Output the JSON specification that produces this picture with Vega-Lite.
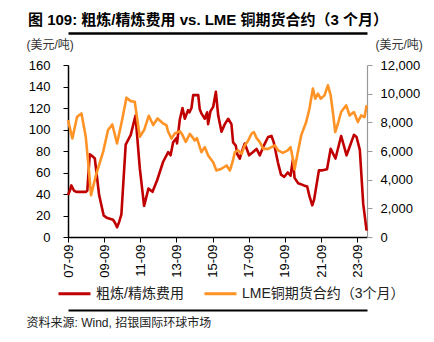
{
  "$schema": "https://vega.github.io/schema/vega-lite/v6.json",
  "width": 299,
  "height": 172,
  "autosize": "none",
  "padding": {"left": 68, "top": 65, "right": 67, "bottom": 105},
  "background": "white",
  "config": {
    "font": "Liberation Sans",
    "view": {"stroke": null},
    "axis": {"grid": false, "labelFont": "Liberation Sans", "titleFont": "Liberation Sans, Noto Sans CJK SC"},
    "legend": {"labelFont": "Liberation Sans, Noto Sans CJK SC"}
  },
  "title": {
    "text": "图 109: 粗炼/精炼费用 vs. LME 铜期货合约（3 个月）",
    "font": "Liberation Sans, Noto Sans CJK SC",
    "fontSize": 15,
    "fontWeight": "bold",
    "color": "#000000",
    "anchor": "start",
    "frame": "group",
    "dx": -40,
    "offset": 5
  },
  "datasets": {
    "tc": [
      {"date": "2007-09-01", "value": 39},
      {"date": "2007-10-15", "value": 44},
      {"date": "2007-11-07", "value": 48},
      {"date": "2008-01-01", "value": 43},
      {"date": "2008-02-17", "value": 42},
      {"date": "2008-05-01", "value": 42},
      {"date": "2008-08-25", "value": 42},
      {"date": "2008-09-25", "value": 43},
      {"date": "2008-11-14", "value": 77},
      {"date": "2009-01-10", "value": 75},
      {"date": "2009-02-24", "value": 73},
      {"date": "2009-05-22", "value": 39},
      {"date": "2009-08-22", "value": 20},
      {"date": "2009-10-20", "value": 18},
      {"date": "2009-12-24", "value": 17},
      {"date": "2010-02-28", "value": 16},
      {"date": "2010-04-10", "value": 13},
      {"date": "2010-05-19", "value": 9},
      {"date": "2010-07-01", "value": 14},
      {"date": "2010-08-15", "value": 21},
      {"date": "2010-11-10", "value": 86},
      {"date": "2011-02-20", "value": 95},
      {"date": "2011-05-27", "value": 113},
      {"date": "2011-08-22", "value": 64},
      {"date": "2011-11-17", "value": 29},
      {"date": "2012-02-13", "value": 45},
      {"date": "2012-05-05", "value": 42},
      {"date": "2012-08-08", "value": 53},
      {"date": "2012-12-06", "value": 70},
      {"date": "2013-03-18", "value": 79},
      {"date": "2013-05-05", "value": 76},
      {"date": "2013-06-25", "value": 88},
      {"date": "2013-09-02", "value": 92},
      {"date": "2013-09-13", "value": 87},
      {"date": "2013-11-07", "value": 109},
      {"date": "2014-01-01", "value": 120},
      {"date": "2014-02-17", "value": 110},
      {"date": "2014-04-23", "value": 118},
      {"date": "2014-05-20", "value": 116},
      {"date": "2014-07-02", "value": 120},
      {"date": "2014-08-05", "value": 132},
      {"date": "2014-11-15", "value": 132},
      {"date": "2014-12-15", "value": 119},
      {"date": "2015-01-18", "value": 115},
      {"date": "2015-03-28", "value": 110},
      {"date": "2015-05-15", "value": 116},
      {"date": "2015-06-03", "value": 105},
      {"date": "2015-07-20", "value": 117},
      {"date": "2015-09-13", "value": 121},
      {"date": "2015-11-06", "value": 135},
      {"date": "2015-12-24", "value": 113},
      {"date": "2016-02-28", "value": 98},
      {"date": "2016-05-05", "value": 105},
      {"date": "2016-07-13", "value": 110},
      {"date": "2016-09-16", "value": 105},
      {"date": "2016-10-20", "value": 88},
      {"date": "2016-12-13", "value": 85},
      {"date": "2017-01-12", "value": 77},
      {"date": "2017-03-04", "value": 73},
      {"date": "2017-04-10", "value": 79},
      {"date": "2017-06-13", "value": 87},
      {"date": "2017-09-08", "value": 76},
      {"date": "2017-11-28", "value": 79},
      {"date": "2018-02-06", "value": 82},
      {"date": "2018-04-13", "value": 76},
      {"date": "2018-07-02", "value": 85},
      {"date": "2018-09-27", "value": 93},
      {"date": "2018-12-05", "value": 94},
      {"date": "2019-01-20", "value": 88},
      {"date": "2019-04-15", "value": 69},
      {"date": "2019-06-15", "value": 58},
      {"date": "2019-08-20", "value": 56},
      {"date": "2019-10-30", "value": 60},
      {"date": "2019-12-25", "value": 57},
      {"date": "2020-02-10", "value": 72},
      {"date": "2020-03-15", "value": 55},
      {"date": "2020-05-27", "value": 50},
      {"date": "2020-09-20", "value": 48},
      {"date": "2020-11-25", "value": 47},
      {"date": "2021-01-10", "value": 38},
      {"date": "2021-03-08", "value": 29.5},
      {"date": "2021-04-15", "value": 35},
      {"date": "2021-07-20", "value": 62},
      {"date": "2021-10-01", "value": 62},
      {"date": "2021-12-31", "value": 63},
      {"date": "2022-03-15", "value": 82},
      {"date": "2022-06-20", "value": 73},
      {"date": "2022-10-12", "value": 94},
      {"date": "2023-01-30", "value": 76},
      {"date": "2023-06-28", "value": 95},
      {"date": "2023-08-20", "value": 93},
      {"date": "2023-10-25", "value": 81},
      {"date": "2024-01-01", "value": 31},
      {"date": "2024-03-10", "value": 6}
    ],
    "lme": [
      {"date": "2007-09-01", "value": 8155},
      {"date": "2007-11-28", "value": 6874},
      {"date": "2008-03-03", "value": 8390},
      {"date": "2008-05-30", "value": 8620},
      {"date": "2008-08-25", "value": 6990},
      {"date": "2008-10-12", "value": 5240},
      {"date": "2008-12-10", "value": 2910},
      {"date": "2009-03-28", "value": 4430},
      {"date": "2009-08-11", "value": 5940},
      {"date": "2009-11-18", "value": 7460},
      {"date": "2010-02-13", "value": 7850},
      {"date": "2010-05-19", "value": 6520},
      {"date": "2010-08-15", "value": 7920},
      {"date": "2010-11-25", "value": 9720},
      {"date": "2011-02-20", "value": 9480},
      {"date": "2011-05-12", "value": 9440},
      {"date": "2011-08-22", "value": 6990},
      {"date": "2011-11-17", "value": 7460},
      {"date": "2012-02-20", "value": 8460},
      {"date": "2012-05-19", "value": 7810},
      {"date": "2012-08-15", "value": 8270},
      {"date": "2012-12-06", "value": 7920},
      {"date": "2013-02-10", "value": 7810},
      {"date": "2013-03-18", "value": 7340},
      {"date": "2013-05-23", "value": 6870},
      {"date": "2013-07-31", "value": 7220},
      {"date": "2013-11-07", "value": 7390},
      {"date": "2014-01-01", "value": 7110},
      {"date": "2014-03-08", "value": 6640},
      {"date": "2014-05-30", "value": 7200},
      {"date": "2014-09-05", "value": 6740},
      {"date": "2014-10-20", "value": 6900},
      {"date": "2015-01-18", "value": 5920},
      {"date": "2015-03-28", "value": 6270},
      {"date": "2015-06-03", "value": 5690},
      {"date": "2015-09-13", "value": 5220},
      {"date": "2015-11-18", "value": 4640},
      {"date": "2016-02-28", "value": 4760},
      {"date": "2016-06-10", "value": 4990},
      {"date": "2016-08-15", "value": 4640},
      {"date": "2016-10-08", "value": 5220},
      {"date": "2016-11-25", "value": 5920},
      {"date": "2017-01-30", "value": 6040},
      {"date": "2017-04-10", "value": 5800},
      {"date": "2017-06-13", "value": 6390},
      {"date": "2017-08-22", "value": 6740},
      {"date": "2017-10-26", "value": 7200},
      {"date": "2017-12-13", "value": 7320},
      {"date": "2018-02-06", "value": 6900},
      {"date": "2018-04-13", "value": 6620},
      {"date": "2018-06-21", "value": 6150},
      {"date": "2018-09-27", "value": 6150},
      {"date": "2018-12-05", "value": 6270},
      {"date": "2019-02-10", "value": 6390},
      {"date": "2019-04-20", "value": 6040},
      {"date": "2019-07-22", "value": 5870},
      {"date": "2019-10-30", "value": 6040},
      {"date": "2019-12-25", "value": 6270},
      {"date": "2020-02-10", "value": 5450},
      {"date": "2020-03-15", "value": 4710},
      {"date": "2020-05-07", "value": 5690},
      {"date": "2020-07-27", "value": 7090},
      {"date": "2020-11-05", "value": 8020},
      {"date": "2021-01-10", "value": 8950},
      {"date": "2021-03-20", "value": 10350},
      {"date": "2021-05-08", "value": 9650},
      {"date": "2021-07-01", "value": 10000},
      {"date": "2021-08-25", "value": 9650},
      {"date": "2021-11-10", "value": 9880},
      {"date": "2022-01-18", "value": 10580},
      {"date": "2022-03-15", "value": 9880},
      {"date": "2022-04-28", "value": 8720},
      {"date": "2022-06-15", "value": 7320},
      {"date": "2022-08-08", "value": 7900},
      {"date": "2022-10-12", "value": 8720},
      {"date": "2023-01-22", "value": 9190},
      {"date": "2023-04-01", "value": 8480},
      {"date": "2023-06-28", "value": 8720},
      {"date": "2023-09-16", "value": 8020},
      {"date": "2023-11-20", "value": 8480},
      {"date": "2024-01-30", "value": 8370},
      {"date": "2024-03-10", "value": 9190}
    ]
  },
  "layer": [
    {
      "data": {"name": "tc"},
      "mark": {"type": "line", "strokeWidth": 2.6, "strokeJoin": "round"},
      "encoding": {
        "x": {
          "field": "date",
          "type": "temporal",
          "scale": {"domain": [{"year": 2007, "month": 9, "date": 1}, {"year": 2024, "month": 3, "date": 18}], "nice": false},
          "axis": {
            "orient": "bottom",
            "values": [
              {"year": 2007, "month": 9, "date": 1},
              {"year": 2009, "month": 9, "date": 1},
              {"year": 2011, "month": 9, "date": 1},
              {"year": 2013, "month": 9, "date": 1},
              {"year": 2015, "month": 9, "date": 1},
              {"year": 2017, "month": 9, "date": 1},
              {"year": 2019, "month": 9, "date": 1},
              {"year": 2021, "month": 9, "date": 1},
              {"year": 2023, "month": 9, "date": 1}
            ],
            "format": "%y-%m",
            "labelAngle": 270,
            "labelAlign": "right",
            "labelBaseline": "middle",
            "labelPadding": 2,
            "labelFontSize": 13,
            "labelColor": "#000000",
            "labelOverlap": false,
            "tickSize": 5,
            "tickColor": "#000000",
            "domainColor": "#000000",
            "domainWidth": 1.5,
            "title": "资料来源: Wind, 招银国际环球市场",
            "titleFontSize": 12,
            "titleFontWeight": "normal",
            "titleColor": "#222222",
            "titleAngle": 0,
            "titleAlign": "left",
            "titleBaseline": "middle",
            "titleAnchor": null,
            "titleX": -42,
            "titleY": 85
          }
        },
        "y": {
          "field": "value",
          "type": "quantitative",
          "scale": {"domain": [0, 160], "nice": false},
          "axis": {
            "orient": "left",
            "values": [0, 20, 40, 60, 80, 100, 120, 140, 160],
            "labelFontSize": 13,
            "labelColor": "#000000",
            "labelPadding": 13,
            "tickSize": 5,
            "tickColor": "#000000",
            "domainColor": "#000000",
            "domainWidth": 1.5,
            "title": "(美元/吨)",
            "titleFontSize": 12,
            "titleFontWeight": "normal",
            "titleColor": "#333333",
            "titleAngle": 0,
            "titleAlign": "left",
            "titleBaseline": "middle",
            "titleAnchor": null,
            "titleX": -42,
            "titleY": -21
          }
        },
        "color": {
          "datum": "粗炼/精炼费用",
          "type": "nominal",
          "scale": {"domain": ["粗炼/精炼费用", "LME铜期货合约（3个月）"], "range": ["#C00000", "#FF9326"]},
          "legend": {
            "title": null,
            "orient": "none",
            "direction": "horizontal",
            "legendX": -11,
            "legendY": 211,
            "padding": 0,
            "symbolType": "stroke",
            "symbolSize": 1024,
            "symbolStrokeWidth": 3,
            "labelFontSize": 14,
            "labelColor": "#222222",
            "labelOffset": 4,
            "labelLimit": 400,
            "columnPadding": 14
          }
        }
      }
    },
    {
      "data": {"name": "lme"},
      "mark": {"type": "line", "strokeWidth": 2.6, "strokeJoin": "round"},
      "encoding": {
        "x": {
          "field": "date",
          "type": "temporal",
          "axis": {
            "orient": "top",
            "offset": 32,
            "labels": false,
            "ticks": false,
            "domainColor": "#000000",
            "domainWidth": 2.5,
            "title": null
          }
        },
        "y": {
          "field": "value",
          "type": "quantitative",
          "scale": {"domain": [0, 12000], "nice": false},
          "axis": {
            "orient": "right",
            "values": [0, 2000, 4000, 6000, 8000, 10000, 12000],
            "format": ",d",
            "labelFontSize": 13,
            "labelColor": "#000000",
            "labelPadding": 8,
            "tickSize": 5,
            "tickColor": "#999999",
            "domainColor": "#999999",
            "domainWidth": 1.2,
            "title": "(美元/吨)",
            "titleFontSize": 12,
            "titleFontWeight": "normal",
            "titleColor": "#333333",
            "titleAngle": 0,
            "titleAlign": "left",
            "titleBaseline": "middle",
            "titleAnchor": null,
            "titleX": 8,
            "titleY": -21
          }
        },
        "color": {"datum": "LME铜期货合约（3个月）", "type": "nominal"}
      }
    },
    {
      "data": {"name": "tc"},
      "mark": {"type": "point", "opacity": 0},
      "encoding": {
        "x": {
          "field": "date",
          "type": "temporal",
          "axis": {
            "orient": "bottom",
            "offset": 73,
            "labels": false,
            "ticks": false,
            "domainColor": "#000000",
            "domainWidth": 2,
            "title": null
          }
        }
      }
    }
  ],
  "resolve": {"scale": {"y": "independent"}, "axis": {"x": "independent"}}
}
